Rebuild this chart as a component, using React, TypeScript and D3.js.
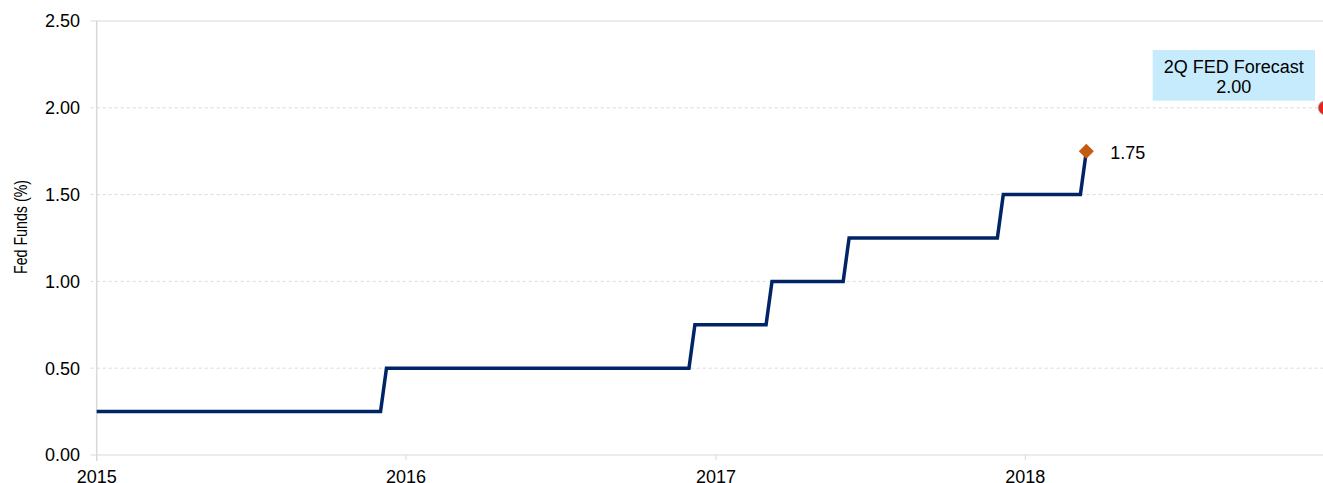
import React from "react";
import * as d3 from "d3";

const lineDates = [
  "2015-01-01", "2015-12-02", "2015-12-09",
  "2016-11-30", "2016-12-07",
  "2017-03-01", "2017-03-08",
  "2017-05-31", "2017-06-07",
  "2017-11-29", "2017-12-06",
  "2018-03-07", "2018-03-14",
];
const lineValues = [
  0.25, 0.25, 0.5,
  0.5, 0.75,
  0.75, 1.0,
  1.0, 1.25,
  1.25, 1.5,
  1.5, 1.75,
];
const lastLabel = "1.75";
const forecastDate = "2018-12-21";
const forecastValue = 2.0;
const forecastLines = ["2Q FED Forecast", "2.00"];
const yTicks = [0, 0.5, 1.0, 1.5, 2.0, 2.5];
const xTickYears = [2015, 2016, 2017, 2018];
const yTitle = "Fed Funds (%)";

const W = 1323;
const H = 483;
const FONT = "Liberation Sans, Arial, sans-serif";

export default function App() {
  const parse = d3.timeParse("%Y-%m-%d");
  const x = d3
    .scaleTime()
    .domain([new Date(2015, 0, 1), new Date(2019, 0, 1)])
    .range([96.7, 1334.6]);
  const y = d3.scaleLinear().domain([0, 2.5]).range([455, 21]);

  const pts = lineDates.map((d, i) => ({ date: parse(d) as Date, v: lineValues[i] }));
  const line = d3
    .line<{ date: Date; v: number }>()
    .x((d) => x(d.date))
    .y((d) => y(d.v));

  const last = pts[pts.length - 1];
  const lx = x(last.date);
  const ly = y(last.v);
  const fx = x(parse(forecastDate) as Date);
  const fy = y(forecastValue);
  const x0 = x(new Date(2015, 0, 1));

  const boxX = 1152.7;
  const boxY = 50;
  const boxW = 162.3;
  const boxH = 50.7;

  return (
    <svg
      width={W}
      height={H}
      style={{ position: "absolute", left: 0, top: 0, background: "#fff" }}
      fontFamily={FONT}
    >
      {/* gridlines */}
      {yTicks.map((t) => (
        <g key={t}>
          <line
            x1={x0 - 6}
            x2={W}
            y1={y(t)}
            y2={y(t)}
            stroke="#d9d9d9"
            strokeWidth={1}
            strokeDasharray={t === 0 || t === 2.5 ? undefined : "3,3"}
          />
          <text
            x={80}
            y={y(t)}
            dy="0.35em"
            textAnchor="end"
            fontSize={18}
            fill="#000"
          >
            {t.toFixed(2)}
          </text>
        </g>
      ))}
      {/* y axis line */}
      <line x1={x0} x2={x0} y1={y(2.5)} y2={y(0) + 6} stroke="#d9d9d9" strokeWidth={1.5} />
      {/* x axis ticks */}
      {xTickYears.map((yr) => {
        const px = x(new Date(yr, 0, 1));
        return (
          <g key={yr}>
            <line x1={px} x2={px} y1={y(0)} y2={y(0) + 5} stroke="#d9d9d9" strokeWidth={1} />
            <text x={px} y={482.5} textAnchor="middle" fontSize={18} fill="#000">
              {yr}
            </text>
          </g>
        );
      })}
      {/* y title */}
      <text
        transform={`translate(26.5, 227) rotate(-90)`}
        textAnchor="middle"
        fontSize={17.5}
        textLength={94}
        lengthAdjust="spacingAndGlyphs"
        fill="#000"
      >
        {yTitle}
      </text>
      {/* line */}
      <path d={line(pts) || ""} fill="none" stroke="#002466" strokeWidth={3.5} strokeLinejoin="miter" />
      {/* last marker */}
      <path
        d={`M${lx},${ly - 7.5} L${lx + 7.5},${ly} L${lx},${ly + 7.5} L${lx - 7.5},${ly} Z`}
        fill="#C55A11"
      />
      <text x={lx + 24} y={ly + 1} dy="0.35em" fontSize={18} fill="#000">
        {lastLabel}
      </text>
      {/* forecast */}
      <circle cx={fx} cy={fy} r={7} fill="#E8231C" stroke="#a0a0a0" strokeWidth={1} />
      <rect x={boxX} y={boxY} width={boxW} height={boxH} fill="#C6EBFC" />
      <text x={boxX + boxW / 2} y={66.3} dy="0.35em" textAnchor="middle" fontSize={18} fill="#000">
        {forecastLines[0]}
      </text>
      <text x={boxX + boxW / 2} y={86.3} dy="0.35em" textAnchor="middle" fontSize={18} fill="#000">
        {forecastLines[1]}
      </text>
    </svg>
  );
}
